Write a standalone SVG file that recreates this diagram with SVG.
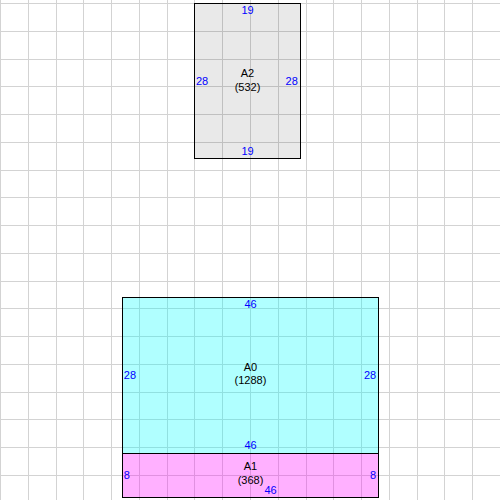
<svg xmlns="http://www.w3.org/2000/svg" width="500" height="500" viewBox="0 0 500 500">
<style>
.grid line{stroke:#d3d3d3;stroke-width:1}
.box{stroke:#000;stroke-width:1}
.lbl{font-family:"Liberation Sans",Arial,sans-serif;font-size:11px;fill:#000;text-anchor:middle}
.dim{font-family:"Liberation Sans",Arial,sans-serif;font-size:11px;fill:#0000ff}
.mid{text-anchor:middle}
.end{text-anchor:end}
</style>
<rect width="500" height="500" fill="#fff"/>
<g class="grid" id="grid">
<line x1="0.5" y1="0" x2="0.5" y2="500"/>
<line x1="28.5" y1="0" x2="28.5" y2="500"/>
<line x1="56.5" y1="0" x2="56.5" y2="500"/>
<line x1="83.5" y1="0" x2="83.5" y2="500"/>
<line x1="111.5" y1="0" x2="111.5" y2="500"/>
<line x1="139.5" y1="0" x2="139.5" y2="500"/>
<line x1="167.5" y1="0" x2="167.5" y2="500"/>
<line x1="194.5" y1="0" x2="194.5" y2="500"/>
<line x1="222.5" y1="0" x2="222.5" y2="500"/>
<line x1="250.5" y1="0" x2="250.5" y2="500"/>
<line x1="278.5" y1="0" x2="278.5" y2="500"/>
<line x1="306.5" y1="0" x2="306.5" y2="500"/>
<line x1="333.5" y1="0" x2="333.5" y2="500"/>
<line x1="361.5" y1="0" x2="361.5" y2="500"/>
<line x1="389.5" y1="0" x2="389.5" y2="500"/>
<line x1="417.5" y1="0" x2="417.5" y2="500"/>
<line x1="444.5" y1="0" x2="444.5" y2="500"/>
<line x1="472.5" y1="0" x2="472.5" y2="500"/>
<line x1="0" y1="3.5" x2="500" y2="3.5"/>
<line x1="0" y1="31.5" x2="500" y2="31.5"/>
<line x1="0" y1="59.5" x2="500" y2="59.5"/>
<line x1="0" y1="86.5" x2="500" y2="86.5"/>
<line x1="0" y1="114.5" x2="500" y2="114.5"/>
<line x1="0" y1="142.5" x2="500" y2="142.5"/>
<line x1="0" y1="170.5" x2="500" y2="170.5"/>
<line x1="0" y1="197.5" x2="500" y2="197.5"/>
<line x1="0" y1="225.5" x2="500" y2="225.5"/>
<line x1="0" y1="253.5" x2="500" y2="253.5"/>
<line x1="0" y1="281.5" x2="500" y2="281.5"/>
<line x1="0" y1="308.5" x2="500" y2="308.5"/>
<line x1="0" y1="336.5" x2="500" y2="336.5"/>
<line x1="0" y1="364.5" x2="500" y2="364.5"/>
<line x1="0" y1="392.5" x2="500" y2="392.5"/>
<line x1="0" y1="419.5" x2="500" y2="419.5"/>
<line x1="0" y1="447.5" x2="500" y2="447.5"/>
<line x1="0" y1="475.5" x2="500" y2="475.5"/>
</g>
<g id="connectors"></g>
<g id="A2">
<rect class="box" x="194.5" y="3.5" width="106" height="155" fill="rgba(0,0,0,0.085)"/>
<text class="lbl" x="247.5" y="77.3">A2</text>
<text class="lbl" x="247.5" y="90.5">(532)</text>
<text class="dim mid" x="247.5" y="14">19</text>
<text class="dim mid" x="247.5" y="155.3">19</text>
<text class="dim" x="196" y="84.5">28</text>
<text class="dim end" x="297.8" y="84.5">28</text>
</g>
<g id="A0">
<rect class="box" x="122.5" y="297.5" width="256" height="156" fill="rgba(0,255,255,0.31)"/>
<text class="lbl" x="250.5" y="371">A0</text>
<text class="lbl" x="250.5" y="384">(1288)</text>
<text class="dim mid" x="250.5" y="307.5">46</text>
<text class="dim mid" x="250.5" y="449.4">46</text>
<text class="dim" x="123.8" y="379.4">28</text>
<text class="dim end" x="376.2" y="379.4">28</text>
</g>
<g id="A1">
<rect class="box" x="122.5" y="453.5" width="256" height="44" fill="rgba(255,0,255,0.31)"/>
<text class="lbl" x="250.5" y="470">A1</text>
<text class="lbl" x="250.5" y="483.5">(368)</text>
<text class="dim mid" x="270.5" y="494.4">46</text>
<text class="dim" x="123.8" y="478.8">8</text>
<text class="dim end" x="376.2" y="478.8">8</text>
</g>
</svg>
